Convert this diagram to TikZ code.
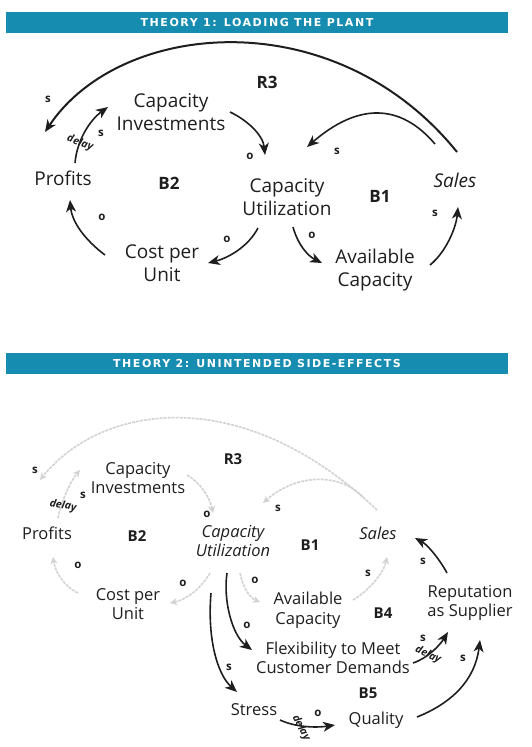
\documentclass[tikz,border=0pt]{standalone}
\usepackage{fontspec}
\setmainfont{Open Sans}
\newfontfamily\hdrfont{DejaVu Sans}[LetterSpace=14]
\usetikzlibrary{arrows.meta}
\definecolor{bar}{RGB}{22,140,176}
\definecolor{ink}{RGB}{30,30,30}
\begin{document}
\begin{tikzpicture}[x=1pt,y=-1pt,
  lbl/.style={font=\fontsize{19}{23}\selectfont, align=center, text=ink, inner sep=1pt},
  lbli/.style={lbl, font=\itshape\fontsize{19}{23}\selectfont},
  lbltwo/.style={font=\fontsize{16.5}{19.5}\selectfont, align=center, text=ink, inner sep=1pt},
  lbltwoi/.style={lbltwo, font=\itshape\fontsize{16.5}{19.5}\selectfont},
  looplbl/.style={font=\bfseries\fontsize{17}{20}\selectfont, text=ink, inner sep=0pt},
  looplbltwo/.style={font=\bfseries\fontsize{15}{18}\selectfont, text=ink, inner sep=0pt},
  pol/.style={font=\bfseries\fontsize{11.5}{11.5}\selectfont, text=ink, inner sep=0pt},
  dly/.style={font=\bfseries\itshape\fontsize{10.5}{10.5}\selectfont, text=ink, inner sep=0pt},
  hdr/.style={font=\hdrfont\bfseries\fontsize{11}{11}\selectfont, text=white, inner sep=0pt},
  arr/.style={draw=ink, line width=1.6pt, -{Stealth[length=12pt,width=10pt,inset=3.5pt]}},
  garr/.style={draw=gray!35, line width=1.6pt, dash pattern=on 3pt off 1pt, -{Stealth[length=7pt,width=7pt,inset=2pt]}}
]
\useasboundingbox (0,0) rectangle (531,747);

% ---------- Theory 1 ----------
\fill[bar] (6,12) rectangle (508,33);
\node[hdr] (h1) at (257,22.5) {THEORY 1: LOADING THE PLANT};

\node[lbl] (pr) at (63,178) {Profits};
\node[lbl] (ci) at (171,112) {Capacity\\Investments};
\node[lbl] (cu) at (287,197) {Capacity\\Utilization};
\node[lbl] (cpu) at (162,263) {Cost per\\Unit};
\node[lbl] (ac) at (375,270) {Available\\Capacity};
\node[lbli] (sa) at (455,180) {Sales};

\node[looplbl] (r3a) at (267,82) {R3};
\node[looplbl] (b2a) at (169,183) {B2};
\node[looplbl] (b1a) at (380,196) {B1};

\draw[arr, line width=2pt] ([shift={(2,-28)}]sa.center) .. controls (334,0) and (120,20) .. ([shift={(-18,-46)}]pr.center);
\draw[arr] ([shift={(-20,-36)}]sa.center) .. controls (400,103) and (358,103) .. ([shift={(20,-50)}]cu.center);
\draw[arr] ([shift={(59,0)}]ci.center) .. controls (247,120) and (263,135) .. ([shift={(-22,-42)}]cu.center);
\draw[arr] ([shift={(-29,31)}]cu.center) .. controls (248,247) and (228,258) .. ([shift={(46,0)}]cpu.center);
\draw[arr] ([shift={(-57,-8)}]cpu.center) .. controls (85,240) and (72,222) .. ([shift={(7,22)}]pr.center);
\draw[arr] ([shift={(12,-15)}]pr.center) .. controls (77,140) and (90,120) .. ([shift={(-63,-5)}]ci.center);
\draw[arr] ([shift={(6,30)}]cu.center) .. controls (298,245) and (308,256) .. ([shift={(-53,-7)}]ac.center);
\draw[arr] ([shift={(55,-5)}]ac.center) .. controls (446,252) and (456,228) .. ([shift={(3,27)}]sa.center);

\node[pol] (p1) at (48,99) {s};
\node[pol] (p2) at (337,151) {s};
\node[pol] (p3) at (250,156) {o};
\node[pol] (p4) at (227,239) {o};
\node[pol] (p5) at (102,217) {o};
\node[pol] (p6) at (101,133) {s};
\node[dly, rotate=-20] (d1) at (80,143) {delay};
\node[pol] (p7) at (312,235) {o};
\node[pol] (p8) at (435,213) {s};

% ---------- Theory 2 ----------
\fill[bar] (6,353) rectangle (508,374);
\node[hdr] (h2) at (257,363.5) {THEORY 2: UNINTENDED SIDE-EFFECTS};

\node[lbltwo] (pr2) at (47,533) {Profits};
\node[lbltwo] (ci2) at (138,478) {Capacity\\Investments};
\node[lbltwoi] (cu2) at (233,541) {Capacity\\Utilization};
\node[lbltwoi] (sa2) at (378,533) {Sales};
\node[lbltwo] (cpu2) at (128,604) {Cost per\\Unit};
\node[lbltwo] (ac2) at (308,610) {Available\\Capacity};
\node[lbltwo] (rep) at (470,603) {Reputation\\as Supplier};
\node[lbltwo] (flex) at (333,658) {Flexibility to Meet\\Customer Demands};
\node[lbltwo] (st) at (254,710) {Stress};
\node[lbltwo] (q) at (376,720) {Quality};

\node[looplbltwo] (r3b) at (233,459) {R3};
\node[looplbltwo] (b2b) at (137,536) {B2};
\node[looplbltwo] (b1b) at (310,545) {B1};
\node[looplbltwo] (b4b) at (383,613) {B4};
\node[looplbltwo] (b5b) at (368,693) {B5};

% faded loops
\draw[garr] ([shift={(-1,-23)}]sa2.center) .. controls (240,380) and (100,405) .. ([shift={(-7,-53)}]pr2.center);
\draw[garr] ([shift={(-15,-36)}]sa2.center) .. controls (340,473) and (297,473) .. ([shift={(30,-38)}]cu2.center);
\draw[garr] ([shift={(49,-3)}]ci2.center) .. controls (200,482) and (210,498) .. ([shift={(-20,-28)}]cu2.center);
\draw[garr] ([shift={(-50,-11)}]cpu2.center) .. controls (62,585) and (55,570) .. ([shift={(6,24)}]pr2.center);
\draw[garr] ([shift={(-23,32)}]cu2.center) .. controls (200,590) and (185,600) .. ([shift={(42,-1)}]cpu2.center);
\draw[garr] ([shift={(7,32)}]cu2.center) .. controls (243,588) and (250,598) .. ([shift={(-48,-8)}]ac2.center);
\draw[garr] ([shift={(45,-10)}]ac2.center) .. controls (370,590) and (384,572) .. ([shift={(9,24)}]sa2.center);
\draw[garr] ([shift={(11,-15)}]pr2.center) .. controls (62,500) and (70,482) .. ([shift={(-58,-8)}]ci2.center);

% bold arrows
\draw[arr] ([shift={(-23,-30)}]rep.center) .. controls (440,560) and (428,545) .. ([shift={(37,5)}]sa2.center);
\draw[arr] ([shift={(-6,32)}]cu2.center) .. controls (223,600) and (232,635) .. ([shift={(-81,-8)}]flex.center);
\draw[arr] ([shift={(-22,52)}]cu2.center) .. controls (207,640) and (218,675) .. ([shift={(-17,-18)}]st.center);
\draw[arr] ([shift={(80,5)}]flex.center) .. controls (428,658) and (440,645) .. ([shift={(-22,29)}]rep.center);
\draw[arr] ([shift={(41,-3)}]q.center) .. controls (452,703) and (475,680) .. ([shift={(10,37)}]rep.center);
\draw[arr] ([shift={(26,10)}]st.center) .. controls (295,727) and (315,728) .. ([shift={(-41,5)}]q.center);

\node[pol] (q1) at (35,470) {s};
\node[pol] (q2) at (83,495) {s};
\node[dly, rotate=-10] (d2) at (63,506) {delay};
\node[pol] (q3) at (207,514) {o};
\node[pol] (q4) at (278,508) {s};
\node[pol] (q5) at (78,565) {o};
\node[pol] (q6) at (183,583) {o};
\node[pol] (q7) at (255,580) {o};
\node[pol] (q8) at (368,573) {s};
\node[pol] (q9) at (423,561) {s};
\node[pol] (q10) at (247,625) {o};
\node[pol] (q11) at (229,667) {s};
\node[pol] (q12) at (423,638) {s};
\node[dly, rotate=-25] (d3) at (428,655) {delay};
\node[pol] (q13) at (463,658) {s};
\node[pol] (q14) at (318,713) {o};
\node[dly, rotate=-62] (d4) at (301,728) {delay};
\end{tikzpicture}
\end{document}
